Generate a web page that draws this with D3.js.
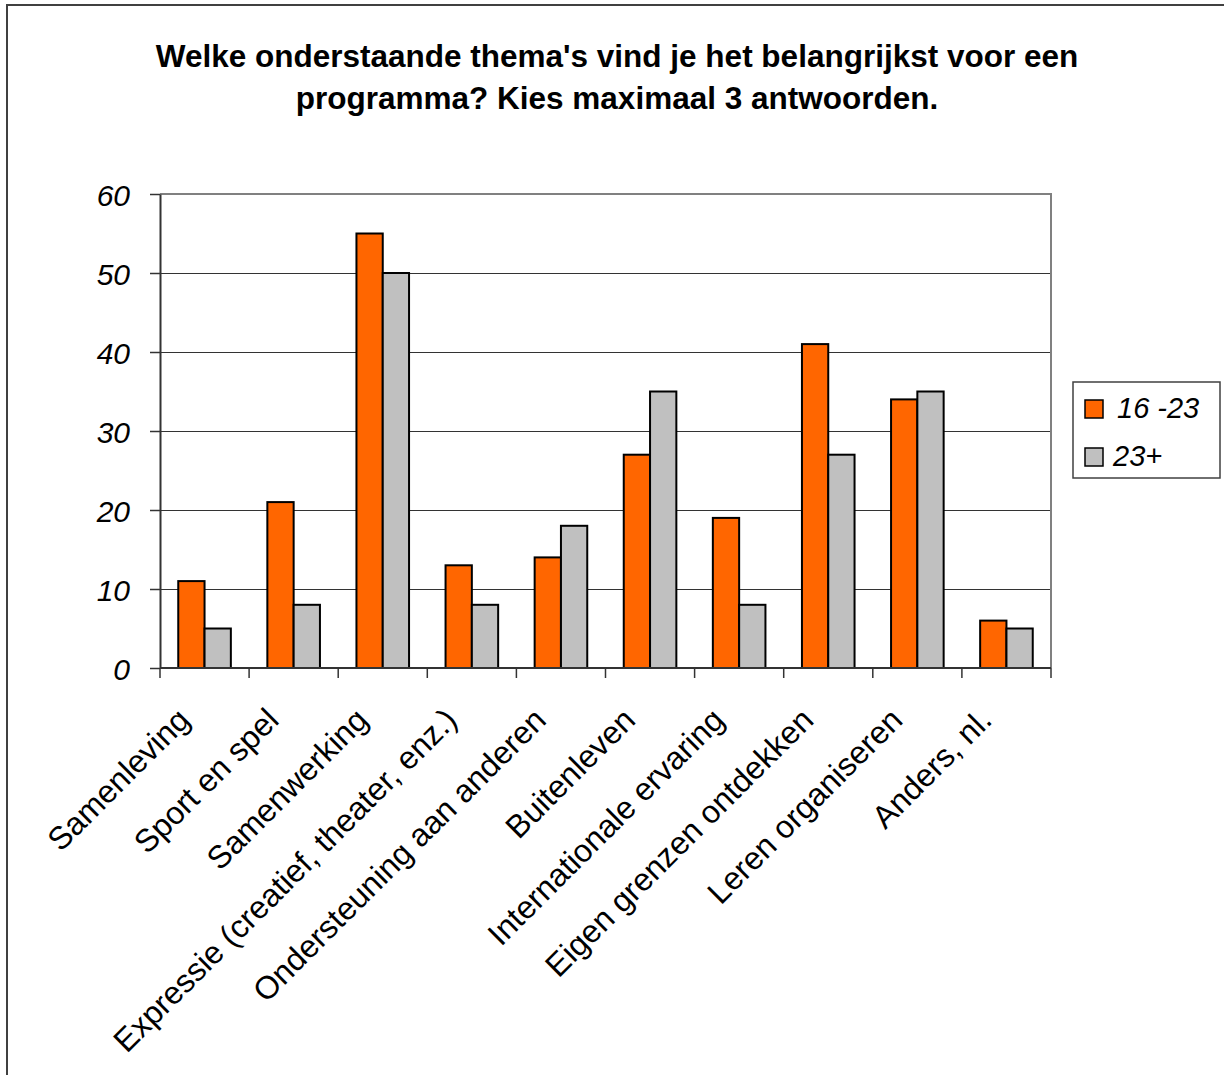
<!DOCTYPE html>
<html>
<head>
<meta charset="utf-8">
<script src="https://cdn.jsdelivr.net/npm/d3@7"></script>
<style>
  body { margin: 0; background: #fff; }
  text { font-family: Arial, "Liberation Sans", sans-serif; }
</style>
</head>
<body>
<svg width="1224" height="1075"></svg>
<script>
var categories = ["Samenleving", "Sport en spel", "Samenwerking", "Expressie (creatief, theater, enz.)",
  "Ondersteuning aan anderen", "Buitenleven", "Internationale ervaring", "Eigen grenzen ontdekken",
  "Leren organiseren", "Anders, nl."];
var seriesNames = ["16 -23", "23+"];
var young = [11, 21, 55, 13, 14, 27, 19, 41, 34, 6];
var older = [5, 8, 50, 8, 18, 35, 8, 27, 35, 5];
var yTicks = [0, 10, 20, 30, 40, 50, 60];
var titleLines = ["Welke onderstaande thema's vind je het belangrijkst voor een",
  "programma? Kies maximaal 3 antwoorden."];

var colors = {"16 -23": "#ff6600", "23+": "#c0c0c0"};
var data = categories.map(function(c, i) {
  return {cat: c, values: [{s: seriesNames[0], v: young[i]}, {s: seriesNames[1], v: older[i]}]};
});

var svg = d3.select("svg");
var margin = {top: 194, left: 160};
var width = 891, height = 474;

// outer chart border (right and bottom fall outside the picture)
svg.append("rect")
  .attr("x", 7).attr("y", 5).attr("width", 1250).attr("height", 1100)
  .attr("fill", "#fff").attr("stroke", "#404040").attr("stroke-width", 2);

// title
svg.append("g").selectAll("text")
  .data(titleLines)
  .enter().append("text")
  .attr("x", 617)
  .attr("y", function(d, i) { return 67 + i * 42; })
  .attr("text-anchor", "middle")
  .attr("font-weight", "bold")
  .attr("font-size", 31.5)
  .text(function(d) { return d; });

var g = svg.append("g").attr("transform", "translate(" + margin.left + "," + margin.top + ")");

var x0 = d3.scaleBand().domain(categories).range([0, width]);
var x1 = d3.scaleBand().domain(seriesNames).range([0, x0.bandwidth()]).paddingOuter(0.694);
var y = d3.scaleLinear().domain([0, 60]).range([height, 0]);

// gridlines
g.append("g").selectAll("line")
  .data(yTicks.filter(function(t) { return t > 0 && t < 60; }))
  .enter().append("line")
  .attr("x1", 0).attr("x2", width)
  .attr("y1", function(d) { return y(d) + 0.5; }).attr("y2", function(d) { return y(d) + 0.5; })
  .attr("stroke", "#333").attr("stroke-width", 1);

// plot area border top/right
g.append("path")
  .attr("d", "M0," + y(60) + "H" + width + "V" + height)
  .attr("fill", "none").attr("stroke", "#808080").attr("stroke-width", 2);

// bars
var groups = g.append("g").selectAll("g")
  .data(data)
  .enter().append("g")
  .attr("transform", function(d) { return "translate(" + x0(d.cat) + ",0)"; });

groups.selectAll("rect")
  .data(function(d) { return d.values; })
  .enter().append("rect")
  .attr("x", function(d) { return x1(d.s); })
  .attr("width", x1.bandwidth())
  .attr("y", function(d) { return y(d.v); })
  .attr("height", function(d) { return height - y(d.v); })
  .attr("fill", function(d) { return colors[d.s]; })
  .attr("stroke", "#000").attr("stroke-width", 2);

// y axis
var yAxis = g.append("g")
  .call(d3.axisLeft(y).tickValues(yTicks).tickSize(10).tickSizeOuter(0).tickFormat(d3.format("d")));
yAxis.select(".domain").attr("stroke", "#333").attr("stroke-width", 2);
yAxis.selectAll(".tick line").attr("stroke", "#333").attr("stroke-width", 1.5);
yAxis.selectAll(".tick text").remove();
yAxis.selectAll(".tick").append("text")
  .attr("x", -30).attr("y", 11)
  .attr("text-anchor", "end")
  .attr("fill", "#000")
  .attr("font-size", 30)
  .attr("font-style", "italic")
  .text(function(d) { return d; });

// x axis with ticks on category boundaries
var xAxis = g.append("g").attr("transform", "translate(0," + height + ")");
xAxis.append("line").attr("x1", 0).attr("x2", width).attr("stroke", "#333").attr("stroke-width", 2);
xAxis.selectAll(".bound")
  .data(categories.concat(["end"]))
  .enter().append("line")
  .attr("class", "bound")
  .attr("x1", function(d, i) { return i * x0.step(); })
  .attr("x2", function(d, i) { return i * x0.step(); })
  .attr("y1", 0).attr("y2", 10)
  .attr("stroke", "#333").attr("stroke-width", 1.5);

xAxis.selectAll(".lab")
  .data(categories)
  .enter().append("text")
  .attr("class", "lab")
  .attr("transform", function(d) {
    return "translate(" + (x0(d) + x0.bandwidth() / 2 - 13) + ",54) rotate(-45)";
  })
  .attr("text-anchor", "end")
  .attr("font-size", 32)
  .text(function(d) { return d; });

// legend
var legend = svg.append("g").attr("transform", "translate(1073,382)");
legend.append("rect")
  .attr("width", 147).attr("height", 96)
  .attr("fill", "#fff").attr("stroke", "#404040").attr("stroke-width", 1.5);
var items = legend.selectAll(".item")
  .data(seriesNames)
  .enter().append("g")
  .attr("class", "item")
  .attr("transform", function(d, i) { return "translate(12," + (18 + i * 48) + ")"; });
items.append("rect")
  .attr("width", 18).attr("height", 18)
  .attr("fill", function(d) { return colors[d]; })
  .attr("stroke", "#000").attr("stroke-width", 1.5);
items.append("text")
  .attr("x", function(d, i) { return i === 0 ? 32 : 28; })
  .attr("y", 18)
  .attr("font-size", 29)
  .attr("font-style", "italic")
  .text(function(d) { return d; });
</script>
</body>
</html>
